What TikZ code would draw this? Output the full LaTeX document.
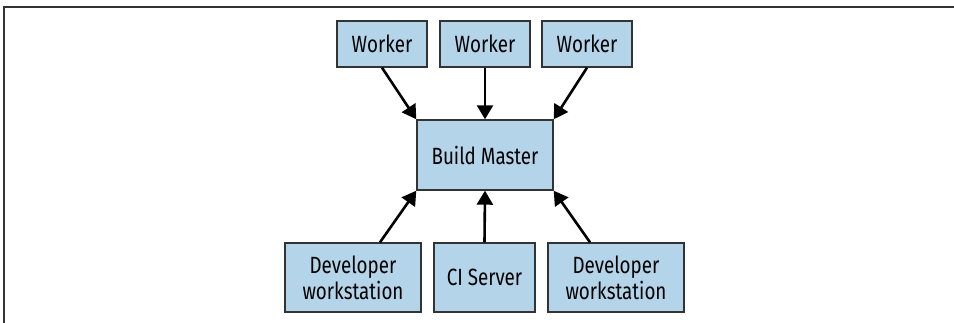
\documentclass[tikz,border=0pt]{standalone}
\usepackage{fontspec}
\setmainfont[FakeStretch=0.8]{Fira Sans}
\usetikzlibrary{arrows.meta,calc}
\definecolor{boxfill}{HTML}{B3D4E9}
\definecolor{boxline}{HTML}{333333}
\tikzset{
  box/.style={draw=boxline, line width=1.4pt, fill=boxfill, rectangle, inner sep=0pt,
    font=\fontsize{23.5}{26}\selectfont, align=center, text=black},
  conn/.style={line width=2.6pt, draw=black, -{Triangle[length=14pt,width=16pt]}},
  frame/.style={draw=boxline, line width=1.4pt}
}
\begin{document}
\begin{tikzpicture}[x=1pt,y=-1pt]
\useasboundingbox (0,0) rectangle (954,323);
\coordinate (fa) at (4,323);
\coordinate (fb) at (4,7);
\coordinate (fc) at (954,7);
\draw[frame] (fa) -- (fb) -- (fc);
\node[box, minimum width=90pt, minimum height=46pt] (w1) at (382,44) {Worker};
\node[box, minimum width=90pt, minimum height=46pt] (w2) at (485,44) {Worker};
\node[box, minimum width=90pt, minimum height=46pt] (w3) at (587,44) {Worker};
\node[box, minimum width=136pt, minimum height=70pt] (bm) at (485,155) {Build Master};
\node[box, minimum width=136pt, minimum height=69pt] (d1) at (353,277.5) {Developer\\workstation};
\node[box, minimum width=101pt, minimum height=69pt] (ci) at (484.5,277.5) {CI Server};
\node[box, minimum width=136pt, minimum height=69pt] (d2) at (616,277.5) {Developer\\workstation};
\draw[conn] (w1.south) -- (bm.north west);
\draw[conn] (w2.south) -- (bm.north);
\draw[conn] (w3.south) -- (bm.north east);
\draw[conn] ($(d1.north)+(27,0)$) -- (bm.south west);
\draw[conn] (ci.north) -- (bm.south);
\draw[conn] ($(d2.north)+(-26,0)$) -- (bm.south east);
\end{tikzpicture}
\end{document}
